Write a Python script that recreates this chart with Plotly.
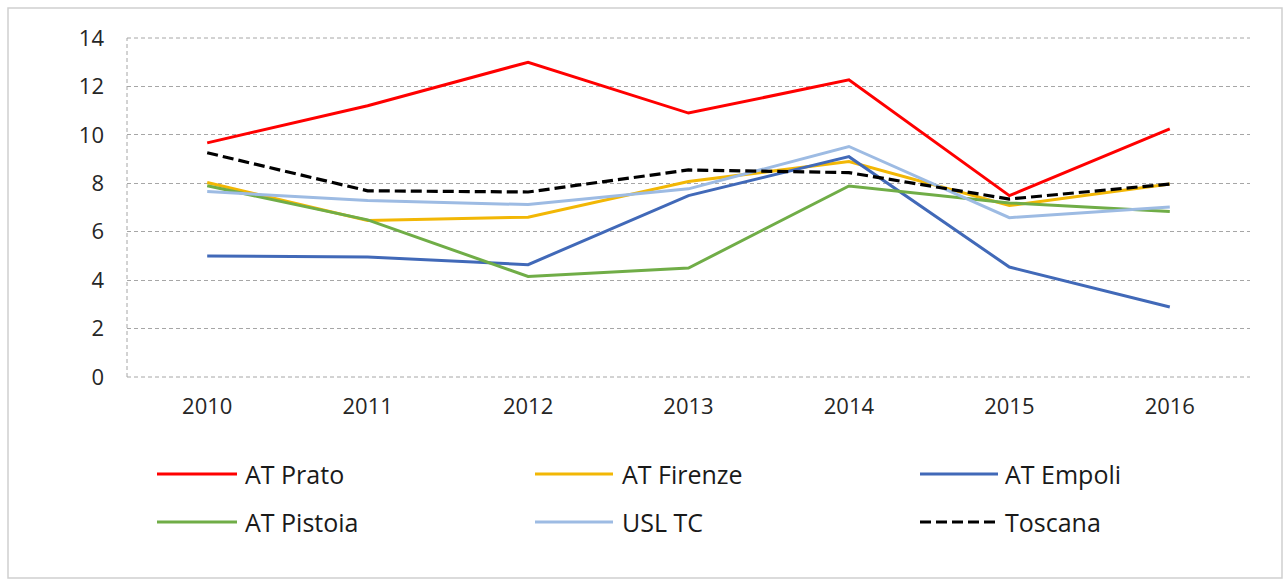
import plotly.graph_objects as go

years = ["2010", "2011", "2012", "2013", "2014", "2015", "2016"]
at_prato = [9.67, 11.2, 13.0, 10.9, 12.27, 7.49, 10.25]
at_firenze = [8.03, 6.46, 6.6, 8.07, 8.9, 7.08, 7.97]
at_empoli = [5.0, 4.96, 4.64, 7.49, 9.1, 4.54, 2.89]
at_pistoia = [7.9, 6.49, 4.15, 4.5, 7.89, 7.19, 6.83]
usl_tc = [7.66, 7.29, 7.12, 7.77, 9.52, 6.58, 7.02]
toscana = [9.26, 7.69, 7.64, 8.55, 8.44, 7.35, 7.97]

series = [
    ("AT Prato", at_prato, "#FF0000", "solid", 3),
    ("AT Firenze", at_firenze, "#F2B705", "solid", 3),
    ("AT Empoli", at_empoli, "#4169B8", "solid", 3),
    ("AT Pistoia", at_pistoia, "#70AD47", "solid", 3),
    ("USL TC", usl_tc, "#9DBBE3", "solid", 3),
    ("Toscana", toscana, "#000000", "11px,5px", 3.2),
]

W, H = 1285, 581
L, R, T, B = 127, 35, 38, 204
PW, PH = W - L - R, H - T - B

def px_x(px):
    return (px - L) / PW

def px_y(py):
    return (H - B - py) / PH

FONT = "Open Sans"
GRID = "#a6a6a6"
fig = go.Figure()
for name, vals, color, dash, width in series:
    fig.add_trace(go.Scatter(x=years, y=vals, mode="lines", name=name,
                             line=dict(color=color, dash=dash, width=width),
                             showlegend=False))

shapes = []
annotations = []
# manual legend (Excel-style long line samples)
cols = [(157, 237, 243), (535, 613, 620), (920, 998, 1003)]
rows = [474, 522]
for i, (name, vals, color, dash, width) in enumerate(series):
    r, c = divmod(i, 3)
    x0, x1, tx = cols[c]
    y = rows[r]
    shapes.append(dict(type="line", xref="paper", yref="paper",
                       x0=px_x(x0), x1=px_x(x1), y0=px_y(y), y1=px_y(y),
                       line=dict(color=color, width=width, dash=dash)))
    annotations.append(dict(xref="paper", yref="paper", x=px_x(tx), y=px_y(y),
                            text=name, showarrow=False, xanchor="left",
                            yanchor="middle",
                            font=dict(family=FONT, size=25, color="#1a1a1a")))

# dashed frame lines of plot area (left, top, bottom)
shapes.append(dict(type="line", xref="paper", yref="paper", x0=0, x1=0, y0=0, y1=1,
                   line=dict(color=GRID, width=1, dash="4px,3px"), layer="below"))
for yy in (0, 1):
    shapes.append(dict(type="line", xref="paper", yref="paper", x0=0, x1=1, y0=yy, y1=yy,
                       line=dict(color=GRID, width=1, dash="4px,3px"), layer="below"))
# outer border
shapes.append(dict(type="rect", xref="paper", yref="paper",
                   x0=px_x(8), x1=px_x(1282), y0=px_y(578), y1=px_y(8),
                   line=dict(color="#d0d0d0", width=1.5), fillcolor="rgba(0,0,0,0)"))

fig.update_layout(
    width=W, height=H,
    margin=dict(l=L, r=R, t=T, b=B),
    paper_bgcolor="white", plot_bgcolor="white",
    shapes=shapes, annotations=annotations,
    showlegend=False,
    font=dict(family=FONT, color="#262626"),
)
fig.update_xaxes(type="category", range=[-0.5, 6.5], showgrid=False, showline=False,
                 zeroline=False, ticks="",
                 tickfont=dict(family=FONT, size=22, color="#262626"),
                 ticklabelstandoff=14)
fig.update_yaxes(range=[0, 14], dtick=2, tick0=0, showgrid=True, gridcolor=GRID,
                 griddash="4px,3px", gridwidth=1, zeroline=False, showline=False, ticks="",
                 tickfont=dict(family=FONT, size=22, color="#262626"),
                 ticklabelstandoff=22)

fig.write_html("out.html", config={"displayModeBar": False},
               post_script="document.body.style.margin='0';document.body.style.overflow='hidden';")
